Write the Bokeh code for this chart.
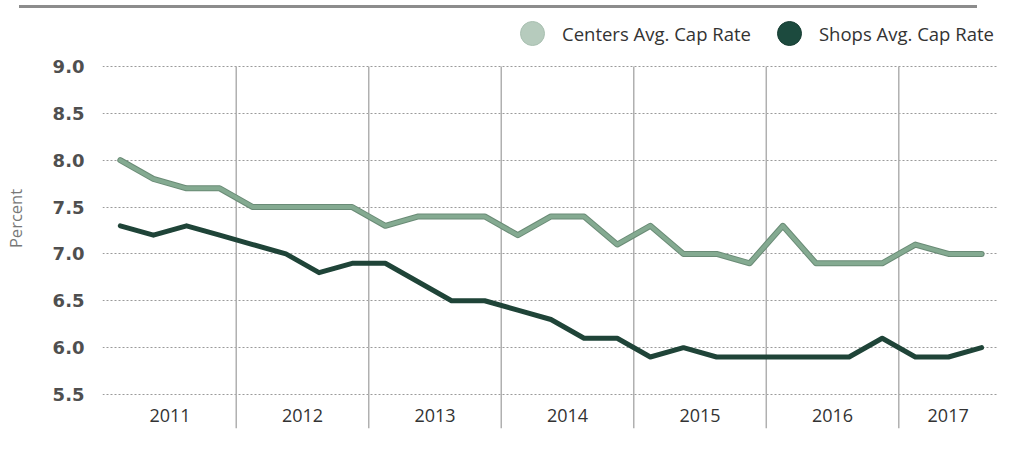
from bokeh.plotting import figure
from bokeh.layouts import column, row
from bokeh.models import Range1d, FixedTicker, Legend, LegendItem, Div, Spacer
from bokeh.embed import file_html
from bokeh.resources import INLINE
from bokeh.core.properties import value

# ---- data ----
years = ["2011", "2012", "2013", "2014", "2015", "2016", "2017"]
quarters_per_year = [4, 4, 4, 4, 4, 4, 3]
centers = [8.0, 7.8, 7.7, 7.7,
           7.5, 7.5, 7.5, 7.5,
           7.3, 7.4, 7.4, 7.4,
           7.2, 7.4, 7.4, 7.1,
           7.3, 7.0, 7.0, 6.9,
           7.3, 6.9, 6.9, 6.9,
           7.1, 7.0, 7.0]
shops = [7.3, 7.2, 7.3, 7.2,
         7.1, 7.0, 6.8, 6.9,
         6.9, 6.7, 6.5, 6.5,
         6.4, 6.3, 6.1, 6.1,
         5.9, 6.0, 5.9, 5.9,
         5.9, 5.9, 5.9, 6.1,
         5.9, 5.9, 6.0]
y_ticks = [5.5, 6.0, 6.5, 7.0, 7.5, 8.0, 8.5, 9.0]
series_names = ["Centers Avg. Cap Rate", "Shops Avg. Cap Rate"]

# ---- derived positions ----
idx = list(range(len(centers)))
x_start, x_end = -0.537, 26.48
y_start, y_end = 5.137, 9.619

bounds = []
c = 0
for n in quarters_per_year:
    c += n
    bounds.append(c - 0.5)
edges = [-0.5] + bounds
label_x = []
for k in range(len(years)):
    lo = edges[k]
    hi = edges[k + 1] if k < len(years) - 1 else x_end
    label_x.append((lo + hi) / 2)
sep_x = bounds[:-1]

p = figure(width=997, height=437, output_backend="svg", toolbar_location=None,
           x_range=Range1d(x_start, x_end), y_range=Range1d(y_start, y_end),
           x_axis_location=None, margin=0,
           min_border_left=92, min_border_right=0, min_border_top=0, min_border_bottom=17)
p.outline_line_color = None
p.background_fill_color = "white"
p.border_fill_color = "white"

# axis
ax = p.yaxis[0]
ax.ticker = FixedTicker(ticks=y_ticks)
ax.major_label_overrides = {t: f"{t:.1f}" for t in y_ticks}
ax.axis_line_color = None
ax.major_tick_line_color = None
ax.minor_tick_line_color = None
ax.major_label_text_font = "DejaVu Sans"
ax.major_label_text_font_style = "bold"
ax.major_label_text_font_size = "18px"
ax.major_label_text_color = "#4f4f4f"
ax.major_label_standoff = 12
ax.axis_label = "Percent"
ax.axis_label_text_font = "Open Sans"
ax.axis_label_text_font_style = "normal"
ax.axis_label_text_font_size = "16.5px"
ax.axis_label_text_color = "#777777"
ax.axis_label_standoff = 23

# grid
p.xgrid.visible = False
p.ygrid.ticker = FixedTicker(ticks=y_ticks)
p.ygrid.grid_line_color = "#9a9a9a"
p.ygrid.grid_line_dash = "2 2"
p.ygrid.grid_line_width = 1

# year separators
top_tick = max(y_ticks)
p.segment(x0=sep_x, y0=[top_tick] * len(sep_x), x1=sep_x, y1=[y_start] * len(sep_x),
          line_color="#b0b0b0", line_width=1.5)

# year labels
label_y = 5.275
p.text(x=label_x, y=[label_y] * len(years), text=years,
       text_align="center", text_baseline="middle",
       text_font=value("Open Sans"), text_font_size="18px", text_color="#333333")

# series lines
p.line(idx, centers, line_color="#6a8b76", line_width=6, line_join="round", line_cap="round")
p.line(idx, centers, line_color="#84aa91", line_width=4, line_join="round", line_cap="round")
p.line(idx, shops, line_color="#1f4438", line_width=5, line_join="round", line_cap="round")

# legend (swatch renderers hold one NaN point so nothing is drawn in the plot)
nan = float("nan")
r1 = p.scatter(x=[nan], y=[nan], marker="circle", fill_color="#b6cbbd", line_color="#a9c0b1")
r2 = p.scatter(x=[nan], y=[nan], marker="circle", fill_color="#1c4a3e", line_color="#173d33")
legend = Legend(items=[LegendItem(label=series_names[0], renderers=[r1]),
                       LegendItem(label=series_names[1], renderers=[r2])],
                orientation="horizontal", location=(400, 365),
                glyph_width=60, glyph_height=60, label_standoff=0, spacing=8,
                padding=0, margin=0, border_line_color=None, background_fill_alpha=0,
                label_text_font="Open Sans", label_text_font_size="18.5px",
                label_text_color="#333333")
p.add_layout(legend)

# top rule above the chart: a 19px spacer, then a grey bar
rule_bar = Div(width=958, height=3, margin=0, text="", sizing_mode="fixed",
               styles={"background-color": "#8c8c8c", "width": "958px", "max-width": "958px"})
rule = row(Spacer(width=19, height=3, margin=0, sizing_mode="fixed"), rule_bar,
           spacing=0, margin=(5, 0, 0, 0), sizing_mode="fixed", width=977, height=3)

layout = column(rule, p, spacing=0, margin=0)
open("out.html", "w").write(file_html(layout, INLINE))
